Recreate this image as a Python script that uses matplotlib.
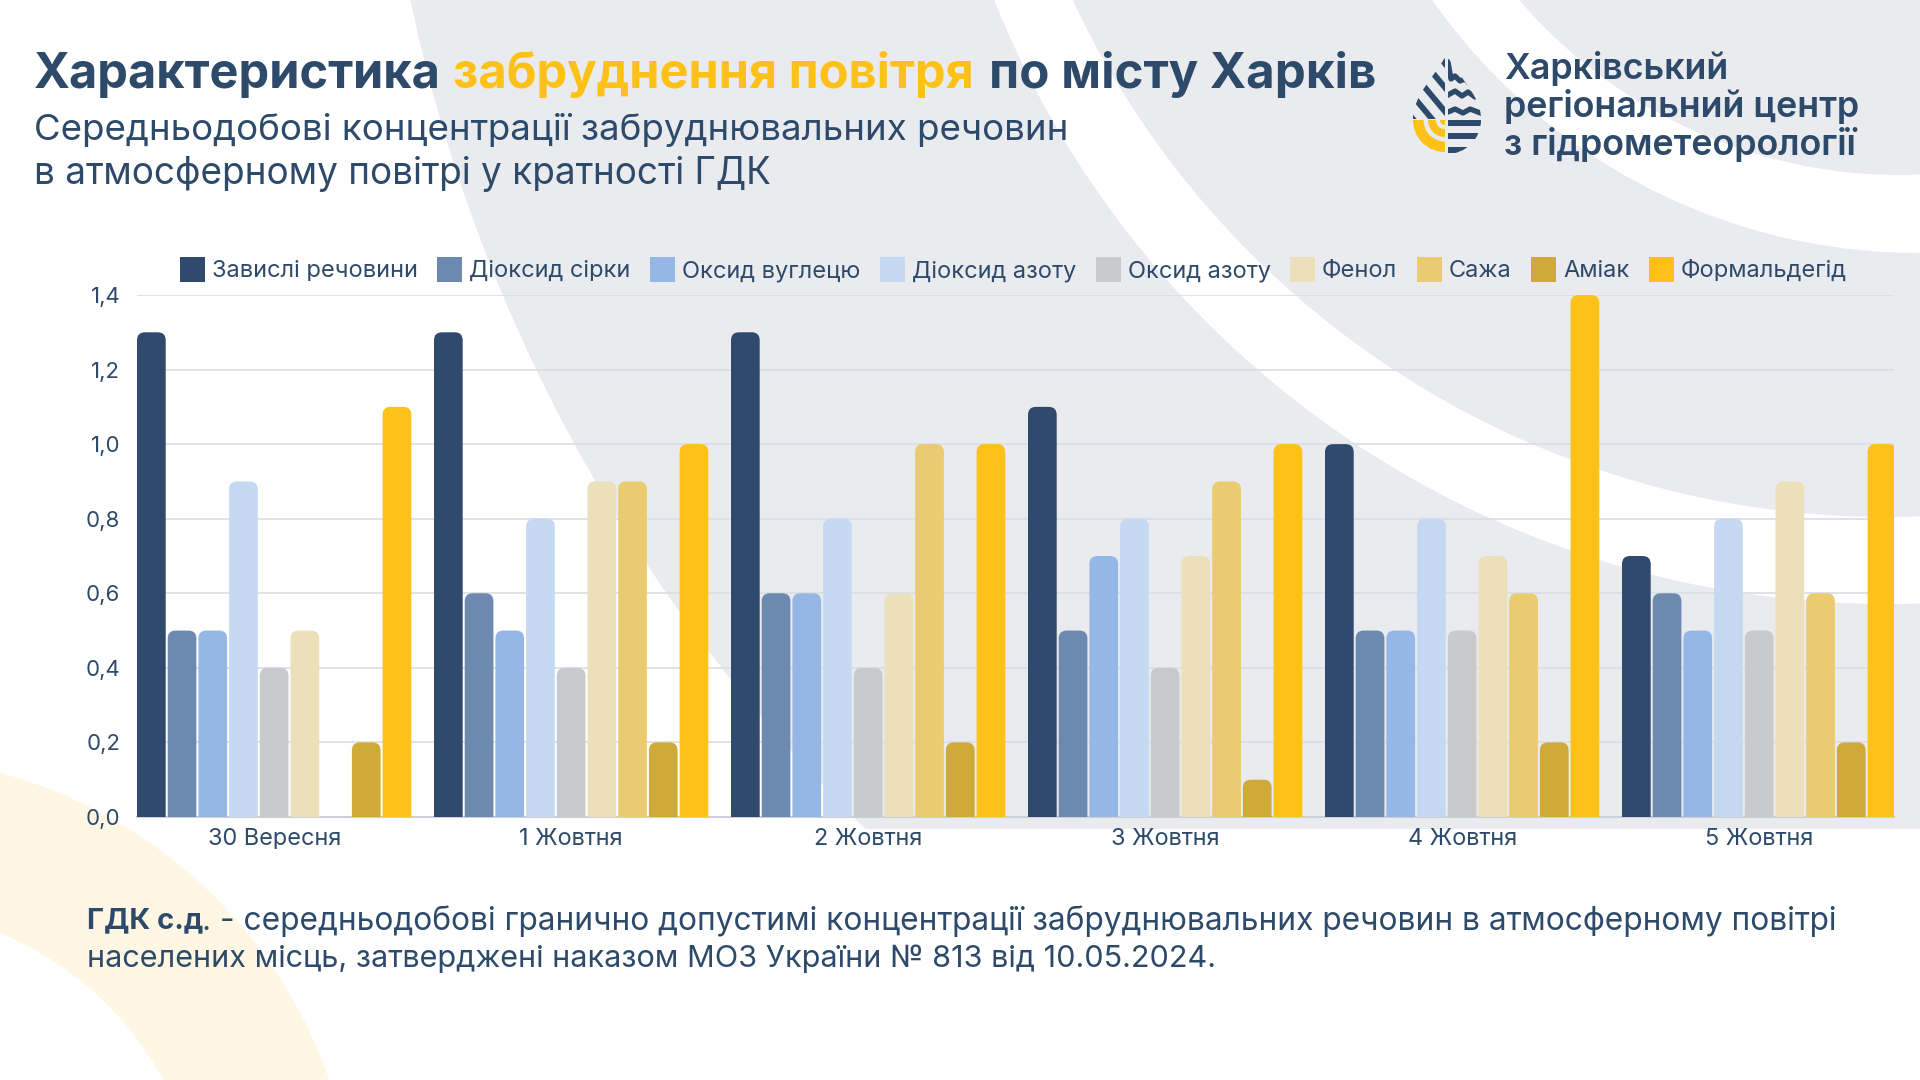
import numpy as np
import matplotlib
matplotlib.use('Agg')
import matplotlib.pyplot as plt
from matplotlib.patches import Circle, Rectangle, Wedge, PathPatch
from matplotlib.path import Path

# data
days = ['30 Вересня', '1 Жовтня', '2 Жовтня', '3 Жовтня', '4 Жовтня', '5 Жовтня']
pollutants = ['Завислі речовини', 'Діоксид сірки', 'Оксид вуглецю', 'Діоксид азоту',
              'Оксид азоту', 'Фенол', 'Сажа', 'Аміак', 'Формальдегід']
suspended = [1.3, 1.3, 1.3, 1.1, 1.0, 0.7]
so2 = [0.5, 0.6, 0.6, 0.5, 0.5, 0.6]
co = [0.5, 0.5, 0.6, 0.7, 0.5, 0.5]
no2 = [0.9, 0.8, 0.8, 0.8, 0.8, 0.8]
no = [0.4, 0.4, 0.4, 0.4, 0.5, 0.5]
phenol = [0.5, 0.9, 0.6, 0.7, 0.7, 0.9]
soot = [0.0, 0.9, 1.0, 0.9, 0.6, 0.6]
ammonia = [0.2, 0.2, 0.2, 0.1, 0.2, 0.2]
formaldehyde = [1.1, 1.0, 1.0, 1.0, 1.4, 1.0]
series = [suspended, so2, co, no2, no, phenol, soot, ammonia, formaldehyde]
colors = ['#2F4A6C', '#6C8AAF', '#94B7E6', '#C6D9F2', '#C8CACC', '#ECE0BA', '#EACB70', '#CFAA38', '#FDC117']
ytick_values = [0.0, 0.2, 0.4, 0.6, 0.8, 1.0, 1.2, 1.4]
ytick_labels = ['0,0', '0,2', '0,4', '0,6', '0,8', '1,0', '1,2', '1,4']

NAVY = '#2E4A6B'
YELLOW = '#FDC117'
GRAY = '#E9EBEF'
CREAM = '#FFF7E3'
W, H = 1920, 1080

plt.rcParams['font.family'] = ['Inter', 'DejaVu Sans']

fig = plt.figure(figsize=(W / 100, H / 100), dpi=100, facecolor='white')

# background layer, in pixel coordinates
bg = fig.add_axes([0, 0, 1, 1], zorder=0)
bg.set_xlim(0, W)
bg.set_ylim(H, 0)
bg.axis('off')

bg.add_patch(Circle((2008, -338), 1633, fc=GRAY, ec='none'))
bg.add_patch(Circle((1887, -358), 962, fc='white', ec='none'))
bg.add_patch(Circle((1887, -383), 900, fc=GRAY, ec='none'))
bg.add_patch(Circle((1918, -340), 593, fc='white', ec='none'))
bg.add_patch(Circle((1900, -327), 502, fc=GRAY, ec='none'))
bg.add_patch(Rectangle((0, 829), W, H - 829, fc='white', ec='none'))
bg.add_patch(Wedge((-126, 1238), 482, 0, 360, width=152, fc=CREAM, ec='none'))

# title, three colours
bg.text(34, 75, 'Характеристика', color=NAVY, fontsize=35.1, fontweight='bold', va='center')
bg.text(453, 75, 'забруднення повітря', color=YELLOW, fontsize=35.2, fontweight='bold', va='center')
bg.text(989, 75, 'по місту Харків', color=NAVY, fontsize=35.4, fontweight='bold', va='center')
bg.text(34, 130, 'Середньодобові концентрації забруднювальних речовин', color=NAVY, fontsize=26.4, va='center')
bg.text(34, 174, 'в атмосферному повітрі у кратності ГДК', color=NAVY, fontsize=26.6, va='center')

# logo text
for y, s in zip([69, 107, 144], ['Харківський', 'регіональний центр', 'з гідрометеорології']):
    bg.text(1504, y, s, color=NAVY, fontsize=25.8, fontweight='semibold', va='center')

# footnote
bg.text(87, 921, 'ГДК с.д', color=NAVY, fontsize=21, fontweight='bold', va='center')
bg.text(202, 921, '. - середньодобові гранично допустимі концентрації забруднювальних речовин в атмосферному повітрі',
        color=NAVY, fontsize=22.8, va='center')
bg.text(87, 959, 'населених місць, затверджені наказом МОЗ України № 813 від 10.05.2024.',
        color=NAVY, fontsize=22.05, va='center')


def draw_logo(ax):
    left_clip = Path([(1445, 57), (1436, 75), (1413, 95), (1413, 119), (1445, 119), (1445, 57)],
                     [Path.MOVETO, Path.CURVE4, Path.CURVE4, Path.CURVE4, Path.LINETO, Path.CLOSEPOLY])
    right_clip = Path([(1448, 57), (1457, 75), (1481, 95), (1481, 119), (1448, 119), (1448, 57)],
                      [Path.MOVETO, Path.CURVE4, Path.CURVE4, Path.CURVE4, Path.LINETO, Path.CLOSEPOLY])
    # diagonal stripes
    for y_end in [72, 96, 120, 143, 166]:
        line, = ax.plot([1402, 1452], [y_end - 50 * 1.2, y_end], color=NAVY, lw=4.2, solid_capstyle='butt')
        line.set_clip_path(left_clip, ax.transData)
    # waves
    waves = [[(1448, 62), (1451, 79), (1455, 76), (1460, 81), (1465, 79), (1472, 86)],
             [(1448, 95), (1455, 91), (1462, 96), (1468, 92), (1475, 97), (1483, 95)],
             [(1448, 112), (1455, 109), (1463, 113), (1470, 109), (1483, 114)]]
    for w in waves:
        xs, ys = zip(*w)
        line, = ax.plot(xs, ys, color=NAVY, lw=3.8, solid_joinstyle='round')
        line.set_clip_path(right_clip, ax.transData)
    # horizontal bars, lower right
    drop = Circle((1447, 120), 34, transform=ax.transData)
    for y0 in [120, 133, 147]:
        r = Rectangle((1448, y0), 34, 6.2, fc=NAVY, ec='none')
        ax.add_patch(r)
        r.set_clip_path(drop)
    # yellow arcs, lower left
    for r_out, wd in [(32, 10.5), (17, 7.7), (5, 5)]:
        ax.add_patch(Wedge((1445, 120), r_out, 90, 180, width=wd, fc=YELLOW, ec='none'))


draw_logo(bg)
bg.set_xlim(0, W)
bg.set_ylim(H, 0)

# chart axes: 137..1894 px wide, 295..817 px high
left, right, top, bottom = 137, 1894, 295, 817
ax = fig.add_axes([left / W, 1 - bottom / H, (right - left) / W, (bottom - top) / H], zorder=1)
ax.patch.set_alpha(0)

period = 297.0
bar_step = 30.7 / period
bar_w = 28.7 / period
x = np.arange(len(days))
x_left = -(4 * bar_step + bar_w / 2)
ax.set_xlim(x_left, x_left + (right - left) / period)
ax.set_ylim(0, 1.4)

rx = 8 / period
ry = 8 * 1.4 / (bottom - top)


def rounded_bar(b):
    # same bar but with the top corners rounded
    x0, w, h = b.get_x(), b.get_width(), b.get_height()
    verts = [(x0, 0), (x0, h - ry), (x0, h), (x0 + rx, h), (x0 + w - rx, h), (x0 + w, h), (x0 + w, h - ry),
             (x0 + w, 0), (x0, 0)]
    codes = [Path.MOVETO, Path.LINETO, Path.CURVE3, Path.CURVE3, Path.LINETO, Path.CURVE3, Path.CURVE3,
             Path.LINETO, Path.CLOSEPOLY]
    return PathPatch(Path(verts, codes), fc=b.get_facecolor(), ec='none', zorder=3)


all_bars = []
for j in range(len(series)):
    bars = ax.bar(x + (j - 4) * bar_step, series[j], bar_w, color=colors[j], label=pollutants[j], zorder=3)
    all_bars.append(bars)

ax.set_yticks(ytick_values, ytick_labels)
ax.set_xticks(x, days)
ax.tick_params(axis='both', length=0, labelcolor=NAVY)
ax.tick_params(axis='y', pad=12, labelsize=16)
ax.tick_params(axis='x', pad=8, labelsize=16.9)
ax.grid(axis='y', color='#DADDE3', lw=1.2, zorder=0)
ax.set_axisbelow(True)
for side in ['top', 'right', 'left']:
    ax.spines[side].set_visible(False)
ax.spines['bottom'].set_color('#CDD0D6')
ax.spines['bottom'].set_linewidth(1.5)

ax.legend(ncol=9, frameon=False, loc='center left',
          bbox_to_anchor=((180 - left) / (right - left), 1 + (295 - 269.5) / (bottom - top)),
          fontsize=17, labelcolor=NAVY, borderpad=0, borderaxespad=0, handlelength=1.06, handleheight=1.25,
          handletextpad=0.29, columnspacing=0.83)

# swap the plain rectangles for the rounded ones, legend keeps its squares
for bars in all_bars:
    for b in bars:
        if b.get_height() > 0:
            ax.add_patch(rounded_bar(b))
        b.set_visible(False)

fig.savefig('out.png', dpi=100)
